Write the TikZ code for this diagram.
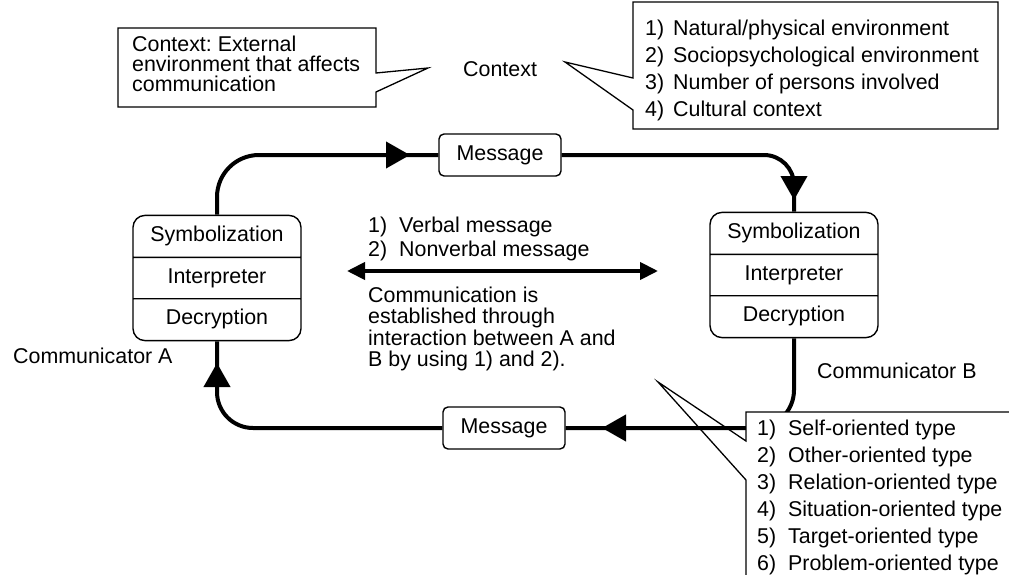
\documentclass[tikz,border=0pt]{standalone}
\usepackage{fontspec}
\setmainfont{Liberation Sans}
\usetikzlibrary{arrows.meta, shapes.multipart}
\newcommand{\lstno}[2][31pt]{\makebox[#1][l]{#2}}
\newcommand{\cellstrut}{\rule[-5pt]{0pt}{20pt}}
\frenchspacing

\begin{document}
\begin{tikzpicture}[x=1pt, y=-1pt,
    every node/.style={font=\fontsize{21.4pt}{21.5pt}\selectfont, inner sep=0pt},
    flow/.style={line width=4pt},
    head/.style={line width=4pt, -{Triangle[length=24pt, width=26pt]}},
    stack/.style={rectangle split, rectangle split parts=3, draw, line width=1.4pt,
                  rounded corners=12pt, minimum width=168pt, inner xsep=4pt,
                  inner ysep=10pt, fill=white},
    msg/.style={draw, line width=1.4pt, rounded corners=5pt, minimum width=122pt,
                minimum height=42pt, fill=white},
    note/.style={line width=1.3pt},
    txt/.style={align=left, anchor=north west}]
  \useasboundingbox (0,0) rectangle (1009,575);
  \clip (0,0) rectangle (1009,575);

  % context
  \coordinate (ctxTipA) at (428,68);
  \coordinate (ctxTipB) at (565,62);
  \draw[note] (376,73) -- (376,28) -- (118,28) -- (118,107) -- (376,107) -- (376,92) -- (ctxTipA) -- cycle;
  \node[txt, font=\fontsize{21.4pt}{20pt}\selectfont] (ctxNote) at (132,35.4)
    {Context: External\\environment that affects\\communication};
  \node[anchor=base west] (ctx) at (463,77) {Context};
  \draw[note] (633,78) -- (633,2) -- (998,2) -- (998,129) -- (633,129) -- (633,110) -- (ctxTipB) -- cycle;
  \node[txt, font=\fontsize{21.4pt}{27pt}\selectfont] (ctxList) at (645,19.4)
    {\lstno[28pt]{1)}Natural/physical environment\\
     \lstno[28pt]{2)}Sociopsychological environment\\
     \lstno[28pt]{3)}Number of persons involved\\
     \lstno[28pt]{4)}Cultural context};

  % communicators
  \node[stack] (symA) at (217,278)
    {\cellstrut Symbolization\nodepart{two}\cellstrut Interpreter\nodepart{three}\cellstrut Decryption};
  \node[stack] (symB) at (794,275)
    {\cellstrut Symbolization\nodepart{two}\cellstrut Interpreter\nodepart{three}\cellstrut Decryption};
  \node[anchor=base west] (comA) at (13,363) {Communicator A};
  \node[anchor=base west] (comB) at (817,378) {Communicator B};

  % messages and loop
  \node[msg] (msgTop) at (500,155) {Message};
  \node[msg] (msgBot) at (504,428) {Message};
  \draw[flow, rounded corners=42pt] (symA.north) |- (msgTop.west);
  \draw[flow, rounded corners=30pt] (msgTop.east) -| (symB.north);
  \draw[flow, rounded corners=38pt] (symB.south) |- (msgBot.east);
  \draw[flow, rounded corners=36pt] (msgBot.west) -| (symA.south);
  \coordinate (tipTop) at (410,155);
  \coordinate (tipRight) at (794,200);
  \coordinate (tipBot) at (602,428);
  \coordinate (tipLeft) at (217,363);
  \draw[head] ([xshift=-2pt]tipTop) -- (tipTop);
  \draw[head] ([yshift=2pt]tipRight) -- (tipRight);
  \draw[head] ([xshift=2pt]tipBot) -- (tipBot);
  \draw[head] ([yshift=-2pt]tipLeft) -- (tipLeft);

  % verbal / nonverbal
  \coordinate (medL) at (347,271);
  \coordinate (medR) at (658,271);
  \draw[flow, {Triangle[length=18pt, width=17pt]}-{Triangle[length=18pt, width=17pt]}] (medL) -- (medR);
  \node[txt, font=\fontsize{21.4pt}{24pt}\selectfont] (media) at (368,216.4)
    {\lstno{1)}Verbal message\\\lstno{2)}Nonverbal message};
  \node[txt] (estab) at (368,286.4)
    {Communication is\\established through\\interaction between A and\\B by using 1) and 2).};

  % types
  \coordinate (typTip) at (658,382);
  \fill[white] (746,412) rectangle (1015,585);
  \draw[note] (1015,412) -- (746,412) -- (746,441) -- (typTip) -- (746,480) -- (746,585);
  \node[txt, font=\fontsize{21.4pt}{27pt}\selectfont] (typList) at (757,419.4)
    {\lstno{1)}Self-oriented type\\
     \lstno{2)}Other-oriented type\\
     \lstno{3)}Relation-oriented type\\
     \lstno{4)}Situation-oriented type\\
     \lstno{5)}Target-oriented type\\
     \lstno{6)}Problem-oriented type};
\end{tikzpicture}
\end{document}
